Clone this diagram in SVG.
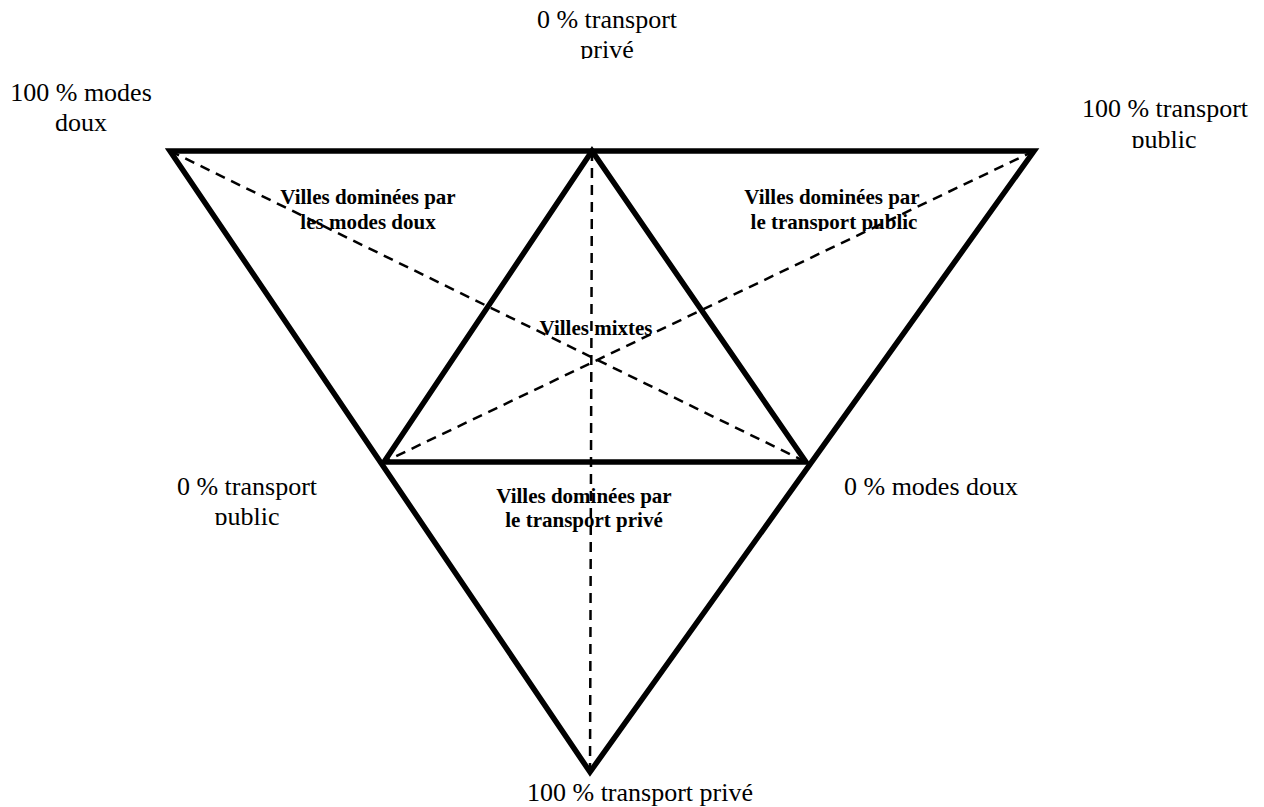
<svg xmlns="http://www.w3.org/2000/svg" width="1264" height="807" viewBox="0 0 1264 807">
<style>
.lbl{font-family:"Liberation Serif","Times New Roman",serif;font-size:26px;fill:#000;text-anchor:middle}
.reg{font-family:"Liberation Serif","Times New Roman",serif;font-size:21px;font-weight:bold;fill:#000;text-anchor:middle}
.solid{fill:none;stroke:#000;stroke-width:5.5;stroke-linejoin:miter}
.dash{fill:none;stroke:#000;stroke-width:2.5;stroke-dasharray:10,7}
</style>
<defs>
<clipPath id="c1"><rect x="0" y="0" width="1264" height="59"/></clipPath>
<clipPath id="c2"><rect x="0" y="0" width="1264" height="148"/></clipPath>
<clipPath id="c3"><rect x="0" y="0" width="1264" height="525"/></clipPath>
<clipPath id="c4"><rect x="0" y="0" width="1264" height="231"/></clipPath>
</defs>
<rect width="1264" height="807" fill="#fff"/>
<g id="connectors">
<polygon class="solid" points="170,151 1034,151 590,772"/>
<polygon class="solid" points="592,151 384,462 806,462"/>
<line class="dash" x1="170" y1="151" x2="806" y2="462"/>
<line class="dash" x1="1034" y1="151" x2="384" y2="462"/>
<line class="dash" x1="592" y1="151" x2="590" y2="772"/>
</g>
<g id="top-label"><text class="lbl" x="607" y="28">0 % transport</text><text class="lbl" x="607" y="58" clip-path="url(#c1)">privé</text></g>
<g id="topleft-label"><text class="lbl" x="81" y="101">100 % modes</text><text class="lbl" x="81" y="131">doux</text></g>
<g id="topright-label"><text class="lbl" x="1165" y="117">100 % transport</text><text class="lbl" x="1164" y="148" clip-path="url(#c2)">public</text></g>
<g id="left-label"><text class="lbl" x="247" y="495">0 % transport</text><text class="lbl" x="247" y="525" clip-path="url(#c3)">public</text></g>
<g id="right-label"><text class="lbl" x="931" y="495">0 % modes doux</text></g>
<g id="bottom-label"><text class="lbl" x="640" y="801">100 % transport privé</text></g>
<g id="region-doux"><text class="reg" x="368" y="204">Villes dominées par</text><text class="reg" x="368" y="229" clip-path="url(#c4)">les modes doux</text></g>
<g id="region-public"><text class="reg" x="832" y="204">Villes dominées par</text><text class="reg" x="834" y="229" clip-path="url(#c4)">le transport public</text></g>
<g id="region-mixtes"><text class="reg" x="596" y="335">Villes mixtes</text></g>
<g id="region-prive"><text class="reg" x="584" y="503">Villes dominées par</text><text class="reg" x="584" y="527">le transport privé</text></g>
</svg>
